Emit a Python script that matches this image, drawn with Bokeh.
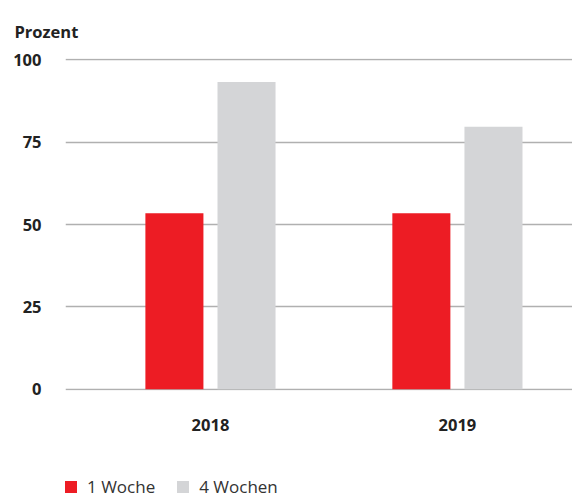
from bokeh.plotting import figure
from bokeh.models import Range1d, Legend, LegendItem, FixedTicker, ColumnDataSource
from bokeh.layouts import column
from bokeh.transform import dodge
from bokeh.embed import file_html
from bokeh.resources import INLINE

years = ["2018", "2019"]
week1 = [53.4, 53.4]
week4 = [93.3, 79.7]
series_names = ["1 Woche", "4 Wochen"]
colors = ["#ED1C24", "#D4D5D7"]
y_ticks = [0, 25, 50, 75, 100]

pos = list(range(len(years)))
src = ColumnDataSource(dict(x=pos, w1=week1, w4=week4))

FONT = "Open Sans"

p = figure(width=572, height=450, output_backend="svg", toolbar_location=None,
           x_range=Range1d(-0.587, 1.466), y_range=Range1d(-0.4, 100.4),
           min_border_left=65, min_border_right=0, min_border_top=58,
           min_border_bottom=60, outline_line_color=None, title="Prozent")

r1 = p.vbar(x=dodge("x", -0.146), top="w1", width=0.235, source=src,
            fill_color=colors[0], line_color=None)
r2 = p.vbar(x=dodge("x", 0.146), top="w4", width=0.235, source=src,
            fill_color=colors[1], line_color=None)

p.title.text_font = FONT
p.title.text_font_size = "16.5px"
p.title.text_font_style = "bold"
p.title.text_color = "#222222"
p.title.align = "left"
p.title.offset = -51
p.title.standoff = 31

p.xgrid.grid_line_color = None
p.ygrid.grid_line_color = "#b0b0b0"
p.ygrid.grid_line_width = 1.5
p.yaxis.ticker = FixedTicker(ticks=y_ticks)
p.xaxis.ticker = FixedTicker(ticks=pos)
p.xaxis.major_label_overrides = {i: y for i, y in enumerate(years)}

for ax in (p.xaxis, p.yaxis):
    ax.axis_line_color = None
    ax.major_tick_line_color = None
    ax.minor_tick_line_color = None
    ax.major_label_text_font = FONT
    ax.major_label_text_font_size = "16.5px"
    ax.major_label_text_font_style = "bold"
    ax.major_label_text_color = "#222222"
p.yaxis.major_label_standoff = 18
p.xaxis.major_label_standoff = 22

# legend lives in a thin companion figure below the chart
lf = figure(width=572, height=48, output_backend="svg", toolbar_location=None,
            x_range=Range1d(0, 1), y_range=Range1d(1000, 1001),
            x_axis_type=None, y_axis_type=None, outline_line_color=None,
            min_border_left=0, min_border_right=0, min_border_top=0,
            min_border_bottom=0)
lf.xgrid.grid_line_color = None
lf.ygrid.grid_line_color = None
l1 = lf.vbar(x=dodge("x", -0.146), top="w1", width=0.235, source=src,
             fill_color=colors[0], line_color=None)
l2 = lf.vbar(x=dodge("x", 0.146), top="w4", width=0.235, source=src,
             fill_color=colors[1], line_color=None)

legend = Legend(items=[LegendItem(label=series_names[0], renderers=[l1]),
                       LegendItem(label=series_names[1], renderers=[l2])],
                orientation="horizontal", location=(-2, 0),
                label_text_font=FONT, label_text_font_size="17px",
                label_text_color="#333333", glyph_width=15, glyph_height=15,
                spacing=20, border_line_color=None, background_fill_alpha=0,
                margin=0, padding=0, label_standoff=9)
lf.add_layout(legend, "center")

layout = column(p, lf, spacing=0)
open("out.html", "w").write(file_html(layout, INLINE))
